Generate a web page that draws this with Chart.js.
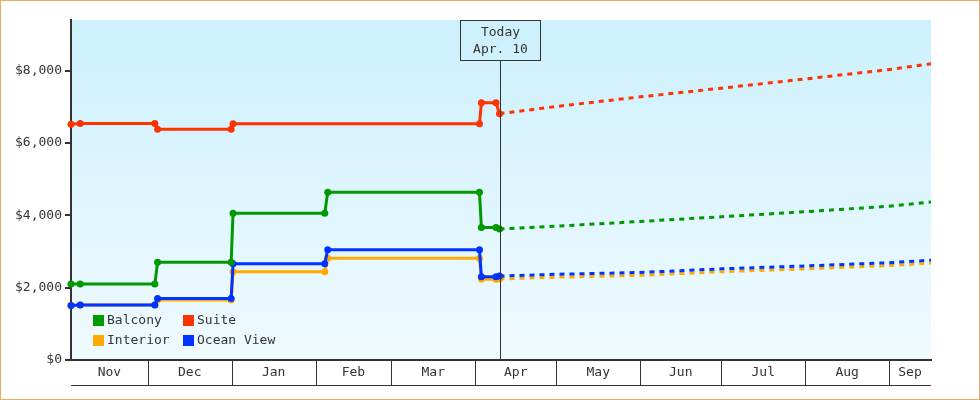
<!DOCTYPE html>
<html>
<head>
<meta charset="utf-8">
<title>Cabin prices</title>
<script src="https://cdn.jsdelivr.net/npm/chart.js@4.4.1/dist/chart.umd.min.js"></script>
<style>
  html, body { margin: 0; padding: 0; background: #fff; }
  canvas { display: block; }
</style>
</head>
<body>
<canvas id="priceChart" width="980" height="400"></canvas>
<script>
'use strict';

// days are counted from Nov 1
const MONTHS = ['Nov', 'Dec', 'Jan', 'Feb', 'Mar', 'Apr', 'May', 'Jun', 'Jul', 'Aug', 'Sep'];
const MONTH_STARTS = [0, 30, 61, 92, 120, 151, 181, 212, 242, 273, 304, 334];
const X_MIN = 1.6, X_MAX = 319.5;
const TODAY = 160;
const TODAY_LABEL = ['Today', 'Apr. 10'];
const Y_TICKS = [0, 2000, 4000, 6000, 8000];
const Y_MAX = 9400;

// price history (step changes)
const suiteDays = [1.6, 5, 32.6, 33.6, 60.8, 61.5, 152.6, 153.3, 158.7, 160];
const suitePrices = [6520, 6540, 6540, 6380, 6380, 6530, 6530, 7110, 7110, 6810];
const stepDays = [1.6, 5, 32.6, 33.6, 60.8, 61.5, 95.4, 96.5, 152.6, 153.3, 158.7, 160];
const balconyPrices = [2100, 2100, 2100, 2700, 2700, 4060, 4060, 4640, 4640, 3660, 3660, 3620];
const interiorPrices = [1510, 1520, 1520, 1660, 1660, 2440, 2440, 2810, 2810, 2230, 2230, 2240];
const oceanPrices = [1510, 1520, 1520, 1700, 1700, 2660, 2660, 3050, 3050, 2300, 2300, 2320];

// forecast after today
const forecastDays = [160, 181, 212, 242, 273, 304, 319.5];
const suiteForecast = [6810, 7010, 7275, 7515, 7770, 8030, 8190];
const balconyForecast = [3620, 3700, 3830, 3960, 4100, 4250, 4365];
const interiorForecast = [2240, 2290, 2340, 2440, 2520, 2610, 2680];
const oceanForecast = [2320, 2370, 2420, 2520, 2600, 2690, 2760];

const LEGEND_LABELS = ['Balcony', 'Suite', 'Interior', 'Ocean View'];

const FONT = '13px "DejaVu Sans Mono", monospace';
const INK = '#333';

function pts(days, vals){ return days.map((d, i) => ({ x: d, y: vals[i] })); }

function history(label, color, days, vals){
  return { label, data: pts(days, vals), borderColor: color, backgroundColor: color,
    borderWidth: 3, pointRadius: 3.5, pointBorderWidth: 0, tension: 0, clip: false };
}
function forecast(label, color, vals){
  return { label: label + ' forecast', data: pts(forecastDays, vals), borderColor: color,
    borderWidth: 3, borderDash: [5, 5], pointRadius: 0, tension: 0, clip: false };
}

// plot background + outer frame
const frame = {
  id: 'frame',
  beforeDraw(chart){
    const { ctx, chartArea: a } = chart;
    ctx.save();
    ctx.fillStyle = '#fff';
    ctx.fillRect(0, 0, chart.width, chart.height);
    const g = ctx.createLinearGradient(0, a.top, 0, a.bottom);
    g.addColorStop(0, '#ccf0fd');
    g.addColorStop(1, '#f0faff');
    ctx.fillStyle = g;
    ctx.fillRect(a.left, a.top, a.right - a.left, a.bottom - a.top);
    ctx.restore();
  },
  afterDraw(chart){
    const ctx = chart.ctx;
    ctx.save();
    ctx.strokeStyle = '#e8aa68';
    ctx.lineWidth = 1;
    ctx.strokeRect(0.5, 0.5, chart.width - 1, chart.height - 1);
    ctx.restore();
  }
};

// month bands under the x axis
const monthAxis = {
  id: 'monthAxis',
  afterDraw(chart){
    const { ctx, chartArea: a, scales: { x } } = chart;
    const top = a.bottom, bottom = a.bottom + 25;
    ctx.save();
    ctx.strokeStyle = INK;
    ctx.lineWidth = 1;
    ctx.beginPath();
    ctx.moveTo(a.left, bottom + 0.5);
    ctx.lineTo(a.right, bottom + 0.5);
    MONTH_STARTS.forEach(d => {
      if(d <= X_MIN || d >= X_MAX) return;
      const px = Math.round(x.getPixelForValue(d)) + 0.5;
      ctx.moveTo(px, top);
      ctx.lineTo(px, bottom);
    });
    ctx.stroke();
    ctx.font = FONT;
    ctx.fillStyle = INK;
    ctx.textAlign = 'center';
    ctx.textBaseline = 'middle';
    MONTHS.forEach((m, i) => {
      const l = Math.max(x.getPixelForValue(MONTH_STARTS[i]), a.left);
      const r = Math.min(x.getPixelForValue(MONTH_STARTS[i + 1]), a.right);
      ctx.fillText(m, (l + r) / 2, top + 13);
    });
    ctx.restore();
  }
};

// "Today" marker
const todayMarker = {
  id: 'todayMarker',
  afterDatasetsDraw(chart){
    const { ctx, chartArea: a, scales: { x } } = chart;
    const px = Math.round(x.getPixelForValue(TODAY)) + 0.5;
    ctx.save();
    ctx.strokeStyle = INK;
    ctx.lineWidth = 1;
    ctx.strokeRect(px - 40, a.top + 0.5, 80, 40);
    ctx.beginPath();
    ctx.moveTo(px, a.top + 40.5);
    ctx.lineTo(px, a.bottom);
    ctx.stroke();
    ctx.font = FONT;
    ctx.fillStyle = INK;
    ctx.textAlign = 'center';
    ctx.textBaseline = 'middle';
    ctx.fillText(TODAY_LABEL[0], px, a.top + 13);
    ctx.fillText(TODAY_LABEL[1], px, a.top + 30);
    ctx.restore();
  }
};

// 2x2 legend inside the plot
const boxLegend = {
  id: 'boxLegend',
  afterDatasetsDraw(chart){
    const { ctx, chartArea: a } = chart;
    ctx.save();
    ctx.font = FONT;
    ctx.textBaseline = 'middle';
    ctx.textAlign = 'left';
    LEGEND_LABELS.forEach((name, i) => {
      const ds = chart.data.datasets.find(d => d.label === name);
      const bx = a.left + 22 + (i % 2) * 90;
      const cy = a.bottom - 40 + Math.floor(i / 2) * 20;
      ctx.fillStyle = ds.borderColor;
      ctx.fillRect(bx, cy - 5, 11, 11);
      ctx.fillStyle = INK;
      ctx.fillText(name, bx + 14, cy + 1);
    });
    ctx.restore();
  }
};

new Chart(document.getElementById('priceChart'), {
  type: 'line',
  data: {
    datasets: [
      history('Balcony', '#009900', stepDays, balconyPrices),
      history('Suite', '#ff3300', suiteDays, suitePrices),
      history('Ocean View', '#0033ff', stepDays, oceanPrices),
      history('Interior', '#ffaa00', stepDays, interiorPrices),
      forecast('Balcony', '#009900', balconyForecast),
      forecast('Suite', '#ff3300', suiteForecast),
      forecast('Ocean View', '#0033ff', oceanForecast),
      forecast('Interior', '#ffaa00', interiorForecast)
    ]
  },
  options: {
    responsive: false,
    animation: false,
    devicePixelRatio: 1,
    layout: { padding: { top: 20, right: 49, left: 0, bottom: 0 } },
    plugins: { legend: { display: false }, tooltip: { enabled: false } },
    scales: {
      x: {
        type: 'linear', min: X_MIN, max: X_MAX,
        ticks: { display: false },
        grid: { display: false },
        border: { color: INK, width: 2 },
        afterFit: s => { s.height = 40; }
      },
      y: {
        min: 0, max: Y_MAX,
        afterBuildTicks: s => { s.ticks = Y_TICKS.map(v => ({ value: v })); },
        afterFit: s => { s.width = 71; },
        ticks: {
          callback: v => '$' + Number(v).toLocaleString('en-US'),
          font: { family: '"DejaVu Sans Mono", monospace', size: 13 },
          color: INK, padding: 3
        },
        grid: { drawOnChartArea: false, color: INK, lineWidth: 2, tickLength: 6 },
        border: { color: INK, width: 2 }
      }
    }
  },
  plugins: [frame, monthAxis, todayMarker, boxLegend]
});
</script>
</body>
</html>
